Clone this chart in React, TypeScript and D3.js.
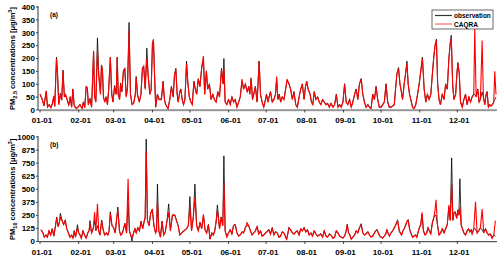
import React from 'react';
import * as d3 from 'd3';

// month starts (day of year) and their labels
const monthDays = [0, 31, 59, 90, 120, 151, 181, 212, 243, 273, 304, 334];
const monthLabels = ['01-01', '02-01', '03-01', '04-01', '05-01', '06-01', '07-01', '08-01', '09-01', '10-01', '11-01', '12-01'];

const pm25Ticks = [0, 50, 100, 150, 200, 250, 300, 350, 400];
const pm10Ticks = [0, 125, 250, 375, 500, 625, 750, 875, 1000];

// PM2.5 series (day of year, concentration)
const pm25Day = [
  0, 0.5, 1.8, 3.2, 5, 6, 7.4, 8.7, 10, 11,
  11.8, 13.2, 14, 15, 16.3, 17.4, 18.4, 19.5, 20.5, 21.6,
  23, 24.2, 25.3, 26.3, 27.4, 29, 30.5, 32, 33.7, 34.7,
  35.8, 37, 37.9, 38.7, 40, 41.3, 42.9, 43.7, 44.7, 46,
  47, 48.4, 49.2, 50, 50.8, 51.8, 52.9, 54, 55, 56.3,
  57.4, 58.4, 59.7, 61, 61.8, 62.6, 63.7, 64.5, 65.5, 66.8,
  67.9, 69, 70, 71.3, 72.4, 73.7, 75, 76.3, 77, 78,
  79.5, 80.8, 82, 83, 84.2, 85.5, 86.6, 87.9, 89, 90,
  90.8, 91.6, 92.6, 94, 95.3, 97.2, 98.5, 99.6, 100.6, 102.5,
  103.9, 105.2, 106.6, 107.6, 108.7, 109.8, 110.6, 111.9, 112.7, 113.8,
  114.9, 116, 117.3, 118.4, 119.5, 120.8, 121.9, 123.2, 124.3, 125.4,
  126.7, 128, 129.4, 130.8, 131.8, 133.2, 134.2, 135.6, 136.9, 138.3,
  139.6, 141, 142.3, 143.7, 145.3, 146.6, 147.2, 148.2, 149.6, 150.9,
  152.3, 153.6, 154.9, 156.3, 157.6, 159, 160.3, 161.7, 163, 164.4,
  165.8, 167.1, 167.9, 169, 170.1, 171.1, 172.4, 173.8, 175.4, 176.5,
  177.8, 179.1, 180.5, 181.3, 182.4, 183.4, 184.5, 185.9, 187.2, 188.5,
  189.4, 190.4, 191.5, 192.6, 193.9, 195.3, 196.6, 197.8, 199.3, 200.6,
  202, 203.3, 204.7, 206, 207.4, 208.7, 210, 211.4, 212.5, 213.5,
  214.6, 216.2, 217.3, 218.4, 219.5, 220.8, 222.2, 223.5, 224.8, 226.2,
  227.5, 228.9, 230.2, 231.6, 232.9, 234.5, 235.8, 237.2, 238.5, 239.8,
  241.1, 242.5, 243.8, 245.1, 246.4, 247.8, 249.1, 250.4, 251.8, 253.1,
  254.4, 255.7, 257.1, 258.4, 259.7, 261, 262.4, 263.7, 265, 266.3,
  267.7, 269, 270.3, 271.6, 273, 274.3, 275.6, 277, 278.3, 279.6,
  280.9, 282.3, 283.6, 284.6, 285.7, 287, 288.1, 288.9, 290.2, 291.5,
  292.6, 293.7, 294.7, 295.8, 296.8, 298.2, 299.5, 300.8, 302.2, 303.5,
  304.8, 306.1, 307.5, 308.8, 310.1, 311.4, 312.8, 314.1, 315.1, 316.2,
  317.3, 318.3, 319.4, 320.5, 322, 323.4, 324.7, 326, 327.3, 328.4,
  329.2, 330.3, 331.3, 332.7, 333.7, 334.5, 335.6, 336.6, 338, 339.3,
  340.6, 341.9, 343.3, 344.6, 345.9, 347.2, 348, 349.1, 350.4, 351.5,
  352.5, 353.9, 354.9, 356, 357.1, 357.9, 358.9, 360, 361, 362.1,
  363.2, 364, 365,
];
const pm25Caqra = [
  60, 55, 40, 15, 75, 12, 20, 8, 25, 55,
  15, 200, 140, 20, 60, 40, 150, 50, 60, 40,
  20, 50, 10, 80, 15, 5, 10, 20, 5, 30,
  8, 90, 85, 20, 40, 10, 230, 50, 30, 230,
  130, 60, 175, 150, 50, 30, 50, 20, 80, 205,
  60, 30, 90, 60, 205, 60, 40, 100, 70, 150,
  160, 50, 80, 310, 60, 20, 25, 60, 125, 60,
  30, 60, 160, 170, 80, 200, 130, 60, 80, 255,
  275, 150, 10, 60, 40, 40, 110, 40, 20, 5,
  40, 90, 50, 130, 160, 60, 30, 70, 80, 40,
  20, 40, 180, 100, 50, 30, 20, 110, 80, 60,
  120, 90, 160, 210, 60, 150, 80, 100, 40, 60,
  40, 30, 70, 50, 160, 100, 160, 30, 20, 40,
  20, 50, 30, 40, 10, 30, 50, 120, 80, 100,
  70, 90, 60, 125, 40, 60, 90, 30, 190, 60,
  30, 10, 40, 60, 30, 50, 70, 30, 40, 60,
  130, 40, 60, 30, 50, 40, 80, 120, 100, 80,
  40, 70, 20, 10, 50, 80, 100, 40, 90, 110,
  80, 60, 30, 20, 70, 40, 50, 30, 20, 40,
  30, 20, 25, 10, 25, 10, 20, 60, 10, 20,
  10, 30, 100, 30, 20, 40, 10, 30, 60, 80,
  40, 100, 120, 60, 30, 10, 20, 10, 5, 60,
  40, 90, 40, 10, 10, 20, 30, 100, 30, 10,
  10, 15, 20, 80, 140, 160, 100, 80, 40, 100,
  140, 180, 100, 60, 40, 10, 5, 20, 60, 100,
  150, 200, 80, 30, 60, 40, 60, 140, 200, 250,
  270, 100, 40, 20, 60, 40, 100, 80, 200, 260,
  280, 100, 40, 60, 140, 180, 140, 30, 10, 40,
  60, 20, 50, 30, 50, 60, 320, 50, 80, 30,
  40, 270, 50, 20, 60, 70, 10, 20, 15, 20,
  30, 150, 60,
];
const pm25Obs = [
  62, 58, 42, 18, 72, 10, 22, 10, 28, 50,
  14, 205, 145, 25, 65, 38, 155, 55, 58, 45,
  18, 52, 12, 82, 18, 8, 12, 22, 6, 32,
  10, 92, 88, 22, 45, 12, 225, 55, 35, 280,
  140, 65, 175, 160, 48, 35, 52, 22, 82, 205,
  65, 32, 95, 62, 205, 65, 42, 105, 72, 155,
  162, 55, 85, 340, 65, 22, 28, 62, 130, 62,
  32, 62, 165, 170, 85, 240, 135, 62, 82, 258,
  272, 155, 12, 62, 42, 45, 112, 42, 22, 6,
  42, 92, 52, 135, 162, 62, 32, 72, 82, 42,
  22, 42, 190, 105, 52, 32, 22, 112, 82, 62,
  122, 92, 165, 200, 62, 152, 82, 102, 42, 62,
  42, 32, 72, 52, 162, 102, 200, 32, 22, 42,
  22, 52, 32, 42, 12, 32, 52, 110, 82, 102,
  72, 92, 62, 122, 42, 62, 92, 32, 190, 62,
  32, 12, 42, 62, 32, 52, 72, 32, 42, 62,
  120, 42, 62, 32, 52, 42, 82, 115, 102, 82,
  42, 72, 22, 12, 52, 82, 102, 42, 92, 112,
  82, 62, 32, 22, 72, 42, 52, 32, 22, 42,
  32, 22, 27, 12, 27, 12, 22, 62, 12, 22,
  12, 32, 102, 32, 22, 42, 12, 32, 62, 82,
  42, 102, 122, 62, 32, 12, 22, 12, 6, 62,
  42, 92, 42, 12, 12, 22, 32, 102, 32, 12,
  12, 17, 22, 82, 142, 165, 102, 82, 42, 102,
  142, 190, 102, 62, 42, 12, 6, 22, 62, 102,
  152, 205, 82, 32, 62, 42, 62, 142, 202, 252,
  275, 102, 42, 22, 62, 42, 102, 82, 202, 262,
  290, 102, 42, 62, 142, 185, 142, 32, 12, 42,
  62, 22, 52, 32, 52, 62, 60, 52, 82, 32,
  42, 70, 52, 22, 62, 72, 12, 22, 17, 22,
  32, 40, 50,
];

// PM10 series (day of year, concentration)
const pm10Day = [
  0.8, 2, 3.4, 4.7, 5.9, 7.2, 8.5, 9.8, 11.1, 12.4,
  13.4, 14.5, 15.5, 16.3, 17.6, 18.9, 20.2, 21.4, 22.7, 24,
  25.3, 26.4, 27.4, 28.4, 30, 31, 32, 33.1, 34.4, 35.7,
  37, 38.2, 39.3, 40, 41.3, 42.6, 43.7, 44.7, 46, 47,
  48, 49.4, 50.4, 51.7, 53.2, 54.3, 55.3, 56.3, 57.6, 58.9,
  60.2, 61.5, 62.3, 63.6, 64.6, 65.6, 66.7, 68, 69.3, 70.5,
  71.6, 72.6, 73.6, 74.9, 76, 77, 78.3, 79.6, 80.9, 82.2,
  83.2, 84.2, 85, 86, 87.3, 88.6, 89.9, 91.2, 92.5, 93.3,
  94, 95.1, 96.4, 97.7, 99, 100.3, 101.7, 103, 104.4, 106,
  107.9, 109.2, 110.6, 111.9, 113.3, 115.2, 117.3, 118.7, 120, 121.3,
  122.7, 124, 125.4, 126.7, 128.1, 129.4, 130.8, 132.1, 133.4, 134.8,
  136.1, 137.5, 138.8, 139.9, 141, 142, 143.7, 145, 146.3, 147.2,
  148.2, 149.6, 150.9, 152.3, 153.6, 154.9, 156.3, 157.6, 159, 160.3,
  161.7, 163, 164.4, 165.7, 167, 168.4, 169.7, 171, 172.4, 173.8,
  175.1, 176.5, 177.8, 179.1, 181.3, 183.2, 184.5, 185.9, 187.2, 188.5,
  189.9, 191.2, 192.6, 193.9, 195.3, 196.6, 197.4, 199.3, 200.6, 202,
  203.3, 204.7, 206, 207.4, 208.7, 210, 211.4, 212.7, 214.1, 215.4,
  216.8, 218.1, 219.5, 220.8, 222.2, 223.5, 224.8, 226.2, 227.5, 228.9,
  230.2, 231.6, 232.9, 234.5, 235.8, 237.2, 238.5, 239.8, 241.1, 242.5,
  243.8, 244.9, 245.9, 247, 248, 249.1, 250.4, 251.8, 253.1, 254.4,
  255.7, 257.1, 258.4, 259.7, 261, 262.4, 263.7, 265, 266.3, 267.7,
  268.7, 269.8, 270.8, 271.9, 273, 274.3, 275.6, 276.7, 277.7, 278.8,
  279.8, 280.9, 282.3, 283.6, 284.9, 286.2, 287.6, 288.4, 289.4, 290.5,
  291.5, 292.6, 293.7, 294.7, 295.8, 296.8, 298.2, 299.5, 300.8, 301.6,
  302.7, 303.7, 304.8, 305.8, 306.9, 308.2, 309.5, 310.6, 311.6, 312.8,
  314.1, 315.1, 316.2, 317, 318.1, 319.4, 320.7, 322, 323.4, 324.7,
  326, 327.3, 328.4, 329.5, 330.5, 331.3, 332.4, 333.5, 334.5, 335.3,
  336.1, 337.2, 338.2, 339.3, 340.6, 341.9, 343, 344, 345.1, 345.9,
  347.2, 348.6, 349.9, 351.2, 352.5, 353.9, 355.2, 356.6, 357.9, 359.2,
  360.5, 361.9, 363.2, 364.5,
];
const pm10Caqra = [
  110, 90, 40, 60, 40, 100, 60, 120, 50, 150,
  230, 140, 180, 230, 200, 160, 200, 120, 80, 40,
  60, 30, 100, 40, 130, 80, 60, 30, 100, 60,
  30, 80, 100, 170, 80, 120, 280, 100, 360, 100,
  60, 200, 120, 60, 80, 60, 100, 270, 150, 130,
  80, 230, 300, 100, 60, 70, 110, 170, 80, 600,
  100, 60, 40, 80, 120, 80, 130, 100, 190, 120,
  180, 230, 860, 200, 150, 270, 300, 150, 80, 100,
  390, 100, 40, 190, 60, 90, 200, 280, 100, 250,
  250, 200, 150, 60, 80, 100, 120, 150, 330, 100,
  230, 420, 150, 100, 180, 120, 260, 110, 80, 160,
  20, 80, 60, 100, 190, 300, 120, 230, 150, 560,
  100, 40, 80, 110, 70, 150, 160, 80, 50, 60,
  90, 80, 130, 180, 150, 100, 60, 80, 100, 140,
  70, 100, 50, 60, 90, 110, 70, 130, 60, 90,
  80, 40, 50, 90, 80, 40, 20, 130, 110, 80,
  70, 90, 100, 60, 120, 100, 130, 90, 110, 60,
  80, 50, 100, 70, 50, 60, 70, 40, 100, 50,
  40, 70, 60, 30, 40, 100, 80, 50, 40, 30,
  50, 90, 160, 80, 60, 20, 40, 60, 100, 80,
  130, 160, 80, 60, 70, 90, 60, 40, 50, 80,
  100, 110, 80, 50, 40, 30, 50, 70, 110, 70,
  50, 80, 100, 130, 160, 200, 100, 80, 60, 100,
  120, 150, 190, 200, 120, 80, 40, 50, 60, 40,
  90, 130, 160, 280, 100, 60, 80, 130, 100, 70,
  180, 220, 300, 400, 160, 60, 80, 120, 80, 120,
  160, 350, 200, 550, 200, 270, 280, 220, 300, 250,
  330, 150, 120, 80, 60, 100, 120, 90, 110, 70,
  120, 380, 80, 100, 130, 310, 80, 120, 80, 60,
  70, 30, 60, 200,
];
const pm10Obs = [
  115, 95, 45, 65, 42, 105, 62, 125, 55, 155,
  235, 145, 185, 270, 205, 165, 205, 125, 85, 42,
  65, 35, 105, 45, 160, 85, 65, 32, 105, 62,
  32, 85, 105, 200, 85, 125, 200, 105, 150, 105,
  62, 205, 125, 62, 85, 62, 105, 285, 155, 135,
  85, 235, 330, 105, 62, 75, 115, 175, 85, 360,
  105, 62, 5, 85, 125, 85, 135, 105, 195, 125,
  185, 235, 980, 205, 155, 275, 310, 155, 85, 105,
  550, 105, 45, 195, 65, 95, 205, 360, 105, 255,
  255, 205, 155, 65, 85, 105, 125, 155, 430, 105,
  235, 550, 155, 105, 185, 125, 250, 115, 85, 165,
  25, 85, 65, 105, 195, 350, 125, 235, 155, 820,
  105, 45, 85, 115, 75, 155, 165, 85, 55, 65,
  95, 85, 135, 150, 155, 105, 65, 85, 105, 145,
  75, 105, 55, 65, 95, 115, 75, 135, 65, 95,
  85, 45, 55, 95, 85, 45, 15, 135, 115, 85,
  75, 95, 105, 65, 125, 105, 135, 95, 115, 65,
  85, 55, 105, 75, 55, 65, 75, 45, 105, 55,
  45, 75, 65, 35, 45, 105, 85, 55, 45, 35,
  55, 95, 165, 85, 65, 25, 45, 65, 105, 85,
  135, 170, 85, 65, 75, 95, 65, 45, 55, 85,
  105, 115, 85, 55, 45, 35, 55, 75, 115, 75,
  55, 85, 105, 135, 165, 205, 105, 85, 65, 105,
  125, 155, 195, 210, 125, 85, 45, 55, 65, 45,
  95, 135, 165, 260, 105, 65, 85, 135, 105, 75,
  185, 225, 250, 250, 165, 65, 85, 125, 85, 125,
  165, 330, 205, 800, 205, 275, 285, 225, 305, 255,
  600, 155, 125, 85, 65, 105, 125, 95, 115, 75,
  125, 120, 85, 105, 135, 110, 85, 125, 85, 65,
  75, 35, 65, 50,
];

const font = "'Liberation Sans', Arial, sans-serif";

const x = d3.scaleLinear().domain([0, 365]).range([40, 496]);

type PanelProps = {
  days: number[];
  caqra: number[];
  obs: number[];
  ticks: number[];
  yMax: number;
  top: number;
  bottom: number;
  sub: string;
  tag: string;
};

const Panel = ({ days, caqra, obs, ticks, yMax, top, bottom, sub, tag }: PanelProps) => {
  const y = d3.scaleLinear().domain([0, yMax]).range([bottom, top]);
  const n = Math.min(days.length, caqra.length, obs.length);
  const idx = d3.range(n);
  const lineObs = d3.line<number>().x((i) => x(days[i])).y((i) => y(obs[i]));
  const lineCaqra = d3.line<number>().x((i) => x(days[i])).y((i) => y(caqra[i]));
  const axisX = 38;
  const midY = (top + bottom) / 2;

  return (
    <g>
      <path d={lineObs(idx) || ''} fill="none" stroke="#000" strokeWidth={0.8} />
      <path d={lineCaqra(idx) || ''} fill="none" stroke="#ff0000" strokeWidth={1.1} />

      {/* y axis */}
      <line x1={axisX} x2={axisX} y1={top - 1} y2={bottom} stroke="#000" strokeWidth={0.8} />
      {ticks.map((t) => (
        <g key={t}>
          <line x1={axisX - 2} x2={axisX} y1={y(t)} y2={y(t)} stroke="#000" strokeWidth={0.7} />
          <text x={35} y={y(t) + 2.8} textAnchor="end" fontSize={8} fontWeight="bold" fontFamily={font}>
            {t}
          </text>
        </g>
      ))}

      {/* x axis with daily minor ticks */}
      {d3.range(0, 366).map((d) => (
        <line key={d} x1={x(d)} x2={x(d)} y1={bottom} y2={bottom + 1.5} stroke="#888" strokeWidth={0.4} />
      ))}
      <line x1={axisX} x2={497} y1={bottom} y2={bottom} stroke="#555" strokeWidth={1} />
      {monthDays.map((d, i) => (
        <g key={d}>
          <line x1={x(d)} x2={x(d)} y1={bottom} y2={bottom + 2.5} stroke="#000" strokeWidth={0.7} />
          <text x={x(d) + 2} y={bottom + 13} textAnchor="middle" fontSize={8} fontWeight="bold" fontFamily={font}>
            {monthLabels[i]}
          </text>
        </g>
      ))}

      <text x={50} y={top + 10} fontSize={6.5} fontWeight="bold" fontFamily={font}>
        {tag}
      </text>

      <text
        transform={`translate(15,${midY}) rotate(-90)`}
        textAnchor="middle"
        fontSize={7.5}
        fontWeight="bold"
        fontFamily={font}
      >
        PM
        <tspan fontSize={5.5} dy={2}>{sub}</tspan>
        <tspan dy={-2}> concentrations [μg/m</tspan>
        <tspan fontSize={5.5} dy={-3}>3</tspan>
        <tspan dy={3}>]</tspan>
      </text>
    </g>
  );
};

export default function App() {
  return (
    <svg width={500} height={258} style={{ position: 'absolute', left: 0, top: 0, background: '#fff' }}>
      <Panel days={pm25Day} caqra={pm25Caqra} obs={pm25Obs} ticks={pm25Ticks} yMax={400} top={7} bottom={110} sub="2.5" tag="(a)" />
      <Panel days={pm10Day} caqra={pm10Caqra} obs={pm10Obs} ticks={pm10Ticks} yMax={1000} top={137} bottom={241.5} sub="10" tag="(b)" />

      {/* legend */}
      <rect x={432} y={10} width={61} height={19} fill="#fff" stroke="#444" strokeWidth={0.8} />
      <line x1={435} x2={452} y1={15.5} y2={15.5} stroke="#333" strokeWidth={1.2} />
      <line x1={435} x2={452} y1={24} y2={24} stroke="#ff6666" strokeWidth={1.2} />
      <text x={454} y={18} fontSize={6.5} fontWeight="bold" fontFamily={font}>observation</text>
      <text x={454} y={26.5} fontSize={6.5} fontWeight="bold" fontFamily={font}>CAQRA</text>
    </svg>
  );
}
